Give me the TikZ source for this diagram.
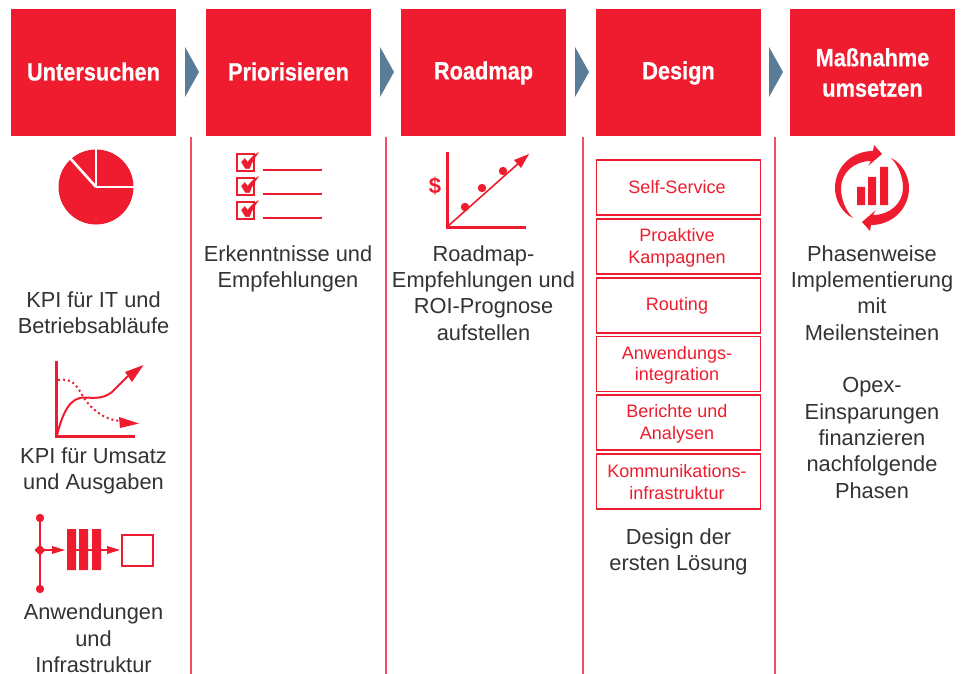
\documentclass[tikz,border=0pt]{standalone}
\usepackage{fontspec}
\setmainfont{Liberation Sans}
\newfontfamily\headfont[FakeStretch=0.87,FakeBold=0.6]{Liberation Sans Bold}
\usetikzlibrary{arrows.meta}
\definecolor{cred}{HTML}{EE1C2E}
\definecolor{cline}{HTML}{F2505F}
\definecolor{cblue}{HTML}{5A7C96}
\definecolor{ctext}{HTML}{333333}
\newcommand{\hs}{\rule[-3pt]{0pt}{22pt}}
\newcommand{\dl}[1]{\rule[-2pt]{0pt}{16pt}#1\hspace*{3pt}}
\newcommand{\dm}[2][-2pt]{\rule[-2pt]{0pt}{16pt}\raisebox{#1}{#2}\hspace*{3pt}}
\tikzset{
 head/.style={fill=cred,text=white,minimum width=165pt,minimum height=127pt,inner sep=0pt,align=center,font=\headfont\fontsize{25}{30.5}\selectfont},
 sep/.style={draw=cline,line width=1.6pt},
 chev/.style={fill=cblue},
 body/.style={text=ctext,align=center,inner sep=0pt,font=\fontsize{21.8}{26.4}\selectfont},
 dbox/.style={draw=cred,line width=1.3pt,text=cred,minimum width=164pt,minimum height=55pt,inner sep=0pt,align=center,font=\fontsize{18}{21.7}\selectfont},
 ic/.style={cred,line width=3pt},
 icthin/.style={cred,line width=1.6pt},
 tip/.style={fill=cred},
}
\begin{document}
\begin{tikzpicture}[x=1pt,y=-1pt]
\useasboundingbox (0,0) rectangle (967,674);
\fill[white] (0,0) rectangle (967,674);
% headers
\node[head] (h1) at (93.5,72.5) {\hs Untersuchen};
\node[head] (h2) at (288.5,72.5) {\hs Priorisieren};
\node[head] (h3) at (483.5,72.5) {\hs Roadmap};
\node[head] (h4) at (678.5,72.5) {\hs Design};
\node[head] (h5) at (872.5,72.5) {\hs Maßnahme\\\rule[-1pt]{0pt}{10pt}umsetzen};
% chevrons
\foreach \x in {185,380,575,769}
  \fill[chev] (\x,47) -- (\x+14,72) -- (\x,97) -- cycle;
% separators
\foreach \x in {191,386,583,775}
  \draw[sep] (\x,137) -- (\x,674);
% pie
\fill[cred] (96,187) circle (37.5);
\draw[white,line width=2.6pt] (96,187) -- (96,148);
\draw[white,line width=2.6pt] (96,187) -- (135,187);
\draw[white,line width=2.6pt] (96,187) -- (70,158);
% text col 1
\node[body] (t1a) at (93.5,313) {KPI für IT und\\Betriebsabläufe};
\node[body] (t1b) at (93.5,471) {KPI für Umsatz\\und Ausgaben};
\node[body] (t1c) at (93.5,638.5) {Anwendungen\\und\\Infrastruktur};
% chart
\draw[ic] (56,361) -- (56,436) -- (135,436);
\draw[cred,line width=2pt] (57,435) .. controls (63,412) and (70,397) .. (85,397.5)
  .. controls (95,398) and (103,399) .. (112,392) -- (128,376);
\fill[tip] (143.5,365) -- (125,372) -- (132,382) -- cycle;
\draw[cred,line width=2pt,dash pattern=on 2pt off 3pt] (58,380) .. controls (72,378) and (76,384) .. (84,398)
  .. controls (92,410) and (105,420) .. (120,421);
\fill[tip] (139,423.5) -- (119,417) -- (120,428) -- cycle;
% process icon
\draw[icthin] (40,518) -- (40,589);
\draw[icthin] (40,550) -- (60,550);
\fill[cred] (40,518) circle (4.2) (40,589) circle (4.2);
\fill[cred] (34.5,550) -- (40,544.5) -- (45.5,550) -- (40,555.5) -- cycle;
\fill[tip] (65,550) -- (52,546) -- (52,554) -- cycle;
\fill[cred] (67,529) rectangle (76,570) (79,529) rectangle (88,570) (92,529) rectangle (101,570);
\draw[icthin] (76,550) -- (110,550);
\fill[tip] (120,550) -- (107,546) -- (107,554) -- cycle;
\draw[cred,line width=1.8pt] (122,535) rectangle (153,566);
% checklist
\foreach \y in {154,178,202}{
  \draw[cred,line width=1.2pt] (237,\y) rectangle (254,\y+17);
  \filldraw[cred,line width=0.5pt,line join=round] (241.5,\y+8) -- (245,\y+4.5) -- (247.5,\y+8.5) .. controls (250,\y+5) and (254,\y+1) .. (258.5,\y-1.5)
     .. controls (255,\y+3) and (251,\y+9) .. (249.5,\y+14.5) -- (245.5,\y+14.5) -- cycle;
  \draw[cred,line width=2.2pt] (263,\y+16) -- (322,\y+16);
}
\node[body] (t2) at (288,269) {Erkenntnisse und\\Empfehlungen};
% roadmap icon
\draw[ic] (447,152) -- (447,227) -- (526,227);
\draw[icthin] (447,227) -- (520,162);
\fill[tip] (529,154) -- (514,160) -- (521,168) -- cycle;
\fill[cred] (465,207) circle (4.2) (482,188) circle (4.2) (503,171) circle (4.2);
\node[inner sep=0pt,text=cred,font=\bfseries\fontsize{22}{22}\selectfont] (dollar) at (435,186) {\$};
\node[body] (t3) at (483.5,293) {Roadmap-\\Empfehlungen und\\ROI-Prognose\\aufstellen};
% design
\node[dbox] (d1) at (678.5,187.5) {\dl{Self-Service}};
\node[dbox] (d2) at (678.5,246.5) {\dm{Proaktive}\\\dm{Kampagnen}};
\node[dbox] (d3) at (678.5,305.5) {\dl{Routing}};
\node[dbox] (d4) at (678.5,364) {\dm{Anwendungs-}\\\dm{integration}};
\node[dbox] (d5) at (678.5,422.5) {\dm{Berichte und}\\\dm{Analysen}};
\node[dbox] (d6) at (678.5,481.5) {\dm[-1pt]{Kommunikations-}\\\dm[-1pt]{infrastruktur}};
\node[body] (t4) at (678.5,552) {Design der\\ersten Lösung};
% cycle icon
\begin{scope}[shift={(872,188)}]
 \foreach \r in {0,180}{
  \fill[cred,rotate=\r] (-19,30) .. controls (-30,25) and (-37,12) .. (-37,0)
     .. controls (-37,-21) and (-20,-37) .. (1,-37)
     -- (2,-43) -- (10,-34) -- (-3.7,-22.3) -- (-1,-27)
     .. controls (-18,-27) and (-31,-15) .. (-31,0)
     .. controls (-31,12) and (-26,23) .. (-19,30) -- cycle;
 }
\end{scope}
\fill[cred] (857,187) rectangle (865,205) (868,177) rectangle (876,205) (880,167) rectangle (888,205);
\node[body] (t5a) at (872,293) {Phasenweise\\Implementierung\\mit\\Meilensteinen};
\node[body] (t5b) at (872,438) {Opex-\\Einsparungen\\finanzieren\\nachfolgende\\Phasen};
\end{tikzpicture}
\end{document}
